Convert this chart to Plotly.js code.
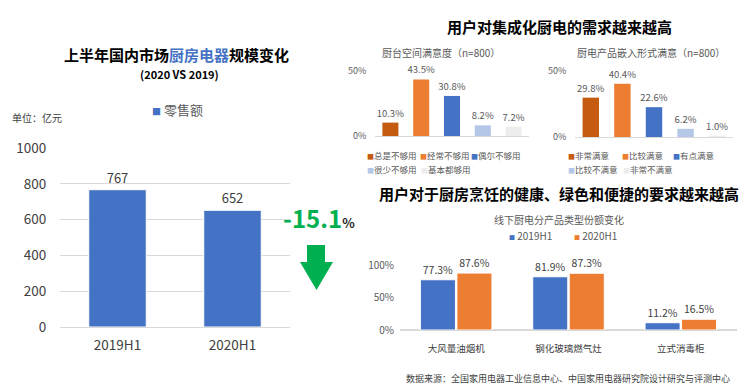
<!DOCTYPE html>
<html><head><meta charset="utf-8">
<script src="https://cdn.plot.ly/plotly-3.0.1.min.js"></script>
<style>html,body{margin:0;padding:0;background:#fff}#chart{width:748px;height:392px}</style>
</head><body><div id="chart"></div>
<script>
// ---------- data ----------
const salesPeriods = ['2019H1', '2020H1'];
const salesValues = [767, 652];
const salesChange = -15.1;

const spaceCategories = ['总是不够用', '经常不够用', '偶尔不够用', '很少不够用', '基本都够用'];
const spaceValues = [10.3, 43.5, 30.8, 8.2, 7.2];

const embedCategories = ['非常满意', '比较满意', '有点满意', '比较不满意', '非常不满意'];
const embedValues = [29.8, 40.4, 22.6, 6.2, 1.0];

const productCategories = ['大风量油烟机', '钢化玻璃燃气灶', '立式消毒柜'];
const productSeries = ['2019H1', '2020H1'];
const share2019 = [77.3, 81.9, 11.2];
const share2020 = [87.6, 87.3, 16.5];

// ---------- styles ----------
const FONT = 'Noto Sans CJK SC, Noto Sans, sans-serif';
const BLUE = '#4472C4', ORANGE = '#ED7D31', GREEN = '#00B050';
const levelColors = ['#C55A11', '#ED7D31', '#4472C4', '#B4C7E7', '#EDEDED'];
const GRID = '#D9D9D9', TXT = '#404040', TXT2 = '#595959';
const W = 748, H = 392;
const px = x => x / W, py = y => 1 - y / H;

// ---------- traces ----------
const traces = [];
traces.push({
  type: 'bar', x: salesPeriods, y: salesValues, xaxis: 'x', yaxis: 'y',
  marker: {color: BLUE, line: {color: '#FFFFFF', width: 1}}, width: 0.5,
  text: salesValues.map(String), textposition: 'outside', cliponaxis: false, constraintext: 'none',
  textfont: {size: 13, color: TXT, family: FONT}, showlegend: false, hoverinfo: 'x+y'
});
spaceCategories.forEach((c, i) => traces.push({
  type: 'bar', x: [c], y: [spaceValues[i]], xaxis: 'x2', yaxis: 'y2', name: c,
  marker: {color: levelColors[i]}, width: 0.52, offset: -0.26,
  text: [spaceValues[i].toFixed(1) + '%'], textposition: 'outside', cliponaxis: false, constraintext: 'none',
  textfont: {size: 9.5, color: TXT2, family: FONT}, showlegend: false
}));
embedCategories.forEach((c, i) => traces.push({
  type: 'bar', x: [c], y: [embedValues[i]], xaxis: 'x3', yaxis: 'y3', name: c,
  marker: {color: levelColors[i]}, width: 0.52, offset: -0.26,
  text: [embedValues[i].toFixed(1) + '%'], textposition: 'outside', cliponaxis: false, constraintext: 'none',
  textfont: {size: 9.5, color: TXT2, family: FONT}, showlegend: false
}));
[share2019, share2020].forEach((vals, k) => traces.push({
  type: 'bar', x: productCategories, y: vals, xaxis: 'x4', yaxis: 'y4', name: productSeries[k],
  marker: {color: k === 0 ? BLUE : ORANGE, line: {color: '#FFFFFF', width: 1}},
  text: vals.map(v => v.toFixed(1) + '%'), textposition: 'outside', cliponaxis: false, constraintext: 'none',
  textfont: {size: 10.5, color: TXT, family: FONT}, showlegend: false
}));

// ---------- annotations ----------
const ann = [];
function txt(x, y, text, size, opts) {
  ann.push(Object.assign({xref: 'paper', yref: 'paper', x: px(x), y: py(y), text: text,
    showarrow: false, xanchor: 'center', yanchor: 'middle',
    font: {family: FONT, size: size, color: '#000'}}, opts || {}));
}
function legendItem(x, y, color, label, size, msize, sep) {
  txt(x, y, '<span style="color:' + color + ';font-size:' + msize + 'px">■</span>' + sep + label, size,
      {xanchor: 'left', font: {family: FONT, size: size, color: TXT2}});
}
txt(176, 55, '<b>上半年国内市场<span style="color:' + BLUE + '">厨房电器</span>规模变化</b>', 15);
txt(179, 74, '<b>(2020 VS 2019)</b>', 11);
txt(10, 117, '单位：亿元', 10, {xanchor: 'left', font: {family: FONT, size: 10, color: TXT}});
legendItem(150, 110, BLUE, '零售额', 13, 9, ' ');
txt(281, 217, '<b>' + salesChange.toFixed(1) + '</b><span style="color:#262626;font-size:13px"><b>%</b></span>', 24,
    {xanchor: 'left', font: {family: FONT, size: 24, color: GREEN}});

txt(559, 27, '<b>用户对集成化厨电的需求越来越高</b>', 15);
txt(441, 52, '厨台空间满意度（n=800）', 10, {font: {family: FONT, size: 10, color: TXT2}});
txt(651, 52, '厨电产品嵌入形式满意（n=800）', 10, {font: {family: FONT, size: 10, color: TXT2}});

const spaceLegendPos = [[365, 155], [418, 155], [469, 155], [365, 169], [419, 169]];
spaceCategories.forEach((c, i) => legendItem(spaceLegendPos[i][0], spaceLegendPos[i][1], levelColors[i], c, 8.5, 7, ''));
const embedLegendPos = [[566, 155], [620, 155], [671, 155], [566, 169], [621, 169]];
embedCategories.forEach((c, i) => legendItem(embedLegendPos[i][0], embedLegendPos[i][1], levelColors[i], c, 8.5, 7, ''));

txt(559, 193, '<b>用户对于厨房烹饪的健康、绿色和便捷的要求越来越高</b>', 15);
txt(559, 220, '线下厨电分产品类型份额变化', 10, {font: {family: FONT, size: 10, color: TXT2}});
const prodLegendPos = [[507, 235], [572, 235]];
productSeries.forEach((s, k) => legendItem(prodLegendPos[k][0], prodLegendPos[k][1], k === 0 ? BLUE : ORANGE, s, 10, 6, ' '));
txt(732, 378, '数据来源：全国家用电器工业信息中心、中国家用电器研究院设计研究与评测中心', 9,
    {xanchor: 'right', font: {family: FONT, size: 9, color: TXT}});

// ---------- arrow decoration ----------
const arrowPath = 'M' + px(307) + ',' + py(245) + ' L' + px(325) + ',' + py(245) + ' L' + px(325) + ',' + py(262) +
  ' L' + px(333) + ',' + py(262) + ' L' + px(316.5) + ',' + py(290) + ' L' + px(300) + ',' + py(262) +
  ' L' + px(307) + ',' + py(262) + ' Z';

// ---------- layout ----------
const hidden = () => ({type: 'category', showgrid: false, zeroline: false, showline: false, showticklabels: false, fixedrange: true});
const layout = {
  width: W, height: H, margin: {l: 0, r: 0, t: 0, b: 0},
  paper_bgcolor: '#FFFFFF', plot_bgcolor: 'rgba(0,0,0,0)',
  font: {family: FONT, color: TXT},
  barmode: 'group', bargap: 0.35, bargroupgap: 0.04,
  showlegend: false,
  xaxis: {domain: [px(60), px(290)], anchor: 'y', type: 'category', showgrid: false, zeroline: false, showline: false,
    ticks: 'outside', ticklen: 6, tickcolor: 'rgba(0,0,0,0)', tickfont: {size: 13.5, color: TXT, family: FONT}},
  yaxis: {domain: [py(327), py(148)], anchor: 'x', range: [0, 1000], dtick: 200, gridcolor: GRID,
    zeroline: true, zerolinecolor: GRID, zerolinewidth: 1, showline: false,
    ticks: 'outside', ticklen: 10, tickcolor: 'rgba(0,0,0,0)', tickfont: {size: 13.5, color: TXT, family: FONT}},
  xaxis2: Object.assign(hidden(), {domain: [px(375), px(529)], anchor: 'y2'}),
  yaxis2: {domain: [py(136), py(71)], anchor: 'x2', range: [0, 50], dtick: 50, ticksuffix: '%', gridcolor: GRID,
    zeroline: true, zerolinecolor: GRID, showline: false, ticks: 'outside', ticklen: 6, tickcolor: 'rgba(0,0,0,0)',
    tickfont: {size: 9, color: TXT2, family: FONT}},
  xaxis3: Object.assign(hidden(), {domain: [px(575), px(733)], anchor: 'y3'}),
  yaxis3: {domain: [py(137), py(71)], anchor: 'x3', range: [0, 50], dtick: 50, ticksuffix: '%', gridcolor: GRID,
    zeroline: true, zerolinecolor: GRID, showline: false, ticks: 'outside', ticklen: 6, tickcolor: 'rgba(0,0,0,0)',
    tickfont: {size: 9, color: TXT2, family: FONT}},
  xaxis4: {domain: [px(400), px(737)], anchor: 'y4', type: 'category', showgrid: false, zeroline: false, showline: false,
    ticks: 'outside', ticklen: 10, tickcolor: 'rgba(0,0,0,0)', tickfont: {size: 9.5, color: TXT, family: FONT}},
  yaxis4: {domain: [py(330), py(265)], anchor: 'x4', range: [0, 100], dtick: 50, ticksuffix: '%', showgrid: false,
    zeroline: true, zerolinecolor: GRID, zerolinewidth: 1.5, showline: false, ticks: 'outside', ticklen: 3,
    tickcolor: 'rgba(0,0,0,0)', tickfont: {size: 10, color: TXT2, family: FONT}},
  annotations: ann,
  shapes: [{type: 'path', xref: 'paper', yref: 'paper', path: arrowPath, fillcolor: GREEN, line: {width: 0}}]
};

Plotly.newPlot('chart', traces, layout, {displayModeBar: false, staticPlot: true});
</script></body></html>
